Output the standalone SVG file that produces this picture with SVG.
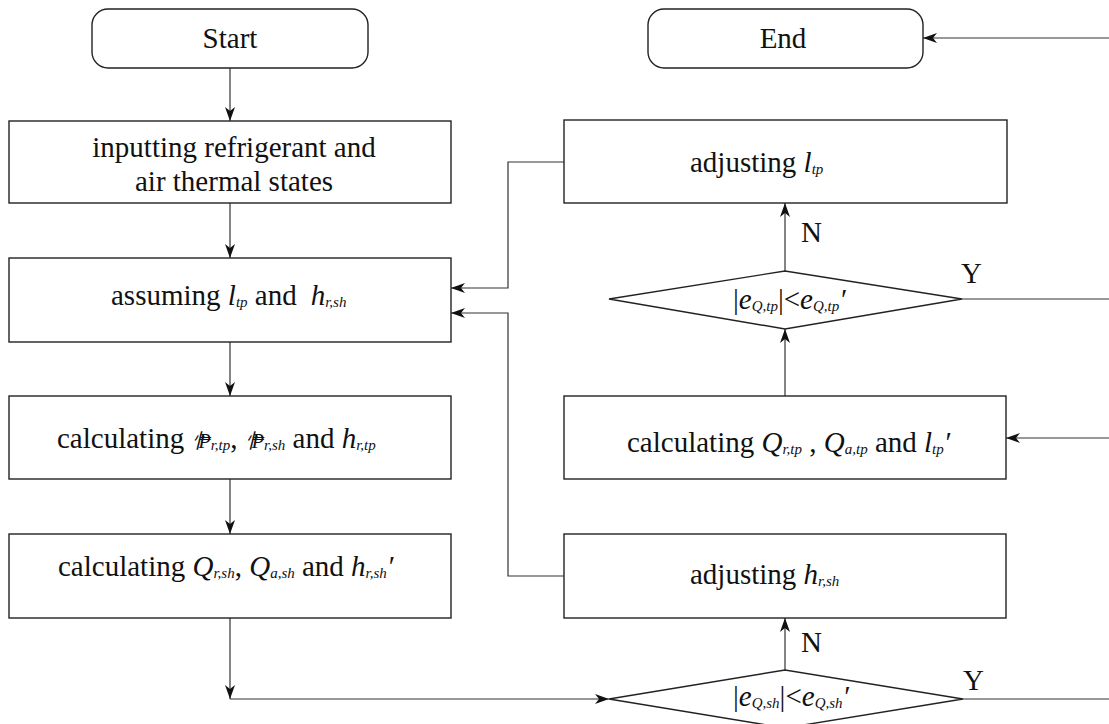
<svg xmlns="http://www.w3.org/2000/svg" width="1109" height="724" viewBox="0 0 1109 724">
<style>
.box{fill:#fff;stroke:#222;stroke-width:1.4}
.ln{fill:none;stroke:#333;stroke-width:1.2}
.t{font-family:"Liberation Serif","Times New Roman",serif;font-size:29px;fill:#111}
.i{font-style:italic}
.s{font-style:italic;font-size:15px}
.g{font-style:italic;font-size:20px;font-family:"Liberation Serif","Noto Sans CJK SC",serif}
</style>
<defs>
<marker id="ah" viewBox="0 0 14 10" refX="14" refY="5" markerWidth="14" markerHeight="10" orient="auto" markerUnits="userSpaceOnUse">
<path d="M0,0 L14,5 L0,10 L4,5 z" fill="#111"/>
</marker>
</defs>
<rect width="1109" height="724" fill="#fff"/>
<g id="connectors">
<path class="ln" d="M230,68 V121" marker-end="url(#ah)"/>
<path class="ln" d="M230,203 V258" marker-end="url(#ah)"/>
<path class="ln" d="M230,342 V396" marker-end="url(#ah)"/>
<path class="ln" d="M230,479 V534" marker-end="url(#ah)"/>
<path class="ln" d="M230,618 V699" marker-end="url(#ah)"/>
<path class="ln" d="M230,699 H609" marker-end="url(#ah)"/>
<path class="ln" d="M785,670 V618" marker-end="url(#ah)"/>
<path class="ln" d="M963,699 H1109"/>
<path class="ln" d="M564,576 H508 V313 H451" marker-end="url(#ah)"/>
<path class="ln" d="M1109,438 H1006" marker-end="url(#ah)"/>
<path class="ln" d="M785,396 V329" marker-end="url(#ah)"/>
<path class="ln" d="M785,271 V203" marker-end="url(#ah)"/>
<path class="ln" d="M962,299 H1109"/>
<path class="ln" d="M564,162 H508 V288 H451" marker-end="url(#ah)"/>
<path class="ln" d="M1109,38 H923" marker-end="url(#ah)"/>
</g>
<g id="start">
<rect class="box" x="92" y="9" width="276" height="59" rx="16"/>
<text class="t" x="230" y="48" text-anchor="middle">Start</text>
</g>
<g id="end">
<rect class="box" x="648" y="9" width="275" height="59" rx="16"/>
<text class="t" x="783" y="48" text-anchor="middle">End</text>
</g>
<g id="input">
<rect class="box" x="9" y="121" width="442" height="82"/>
<text class="t" x="234" y="157" text-anchor="middle">inputting refrigerant and</text>
<text class="t" x="234" y="191" text-anchor="middle">air thermal states</text>
</g>
<g id="assume">
<rect class="box" x="9" y="258" width="442" height="84"/>
<text class="t" x="111" y="305">assuming <tspan class="i">l</tspan><tspan class="s" dy="2">tp</tspan><tspan dy="-2"> and</tspan><tspan class="i" dx="14">h</tspan><tspan class="s" dy="2">r,sh</tspan></text>
</g>
<g id="calc1">
<rect class="box" x="9" y="396" width="442" height="83"/>
<text class="t" x="57" y="448">calculating <tspan class="g" letter-spacing="-13">忄₱</tspan><tspan class="s" dy="2" dx="13">r,tp</tspan><tspan dy="-2">, </tspan><tspan class="g" letter-spacing="-13">忄₱</tspan><tspan class="s" dy="2" dx="13">r,sh</tspan><tspan dy="-2"> and </tspan><tspan class="i">h</tspan><tspan class="s" dy="2">r,tp</tspan></text>
</g>
<g id="calc2">
<rect class="box" x="9" y="534" width="442" height="84"/>
<text class="t" x="58" y="576">calculating <tspan class="i">Q</tspan><tspan class="s" dy="2">r,sh</tspan><tspan dy="-2">, </tspan><tspan class="i">Q</tspan><tspan class="s" dy="2">a,sh</tspan><tspan dy="-2"> and </tspan><tspan class="i">h</tspan><tspan class="s" dy="2">r,sh</tspan><tspan class="i" dy="-2">′</tspan></text>
</g>
<g id="adjust-ltp">
<rect class="box" x="564" y="120" width="443" height="83"/>
<text class="t" x="690" y="172">adjusting <tspan class="i">l</tspan><tspan class="s" dy="2">tp</tspan></text>
</g>
<g id="decision-tp">
<polygon class="box" points="609,299 785,271 962,299 785,329"/>
<text class="t" x="733" y="309">|<tspan class="i">e</tspan><tspan class="s" dy="2">Q,tp</tspan><tspan dy="-2">|&lt;</tspan><tspan class="i">e</tspan><tspan class="s" dy="2">Q,tp</tspan><tspan class="i" dy="-2">′</tspan></text>
<text class="t" x="801" y="242">N</text>
<text class="t" x="961" y="283">Y</text>
</g>
<g id="calc-right">
<rect class="box" x="564" y="396" width="442" height="83"/>
<text class="t" x="627" y="452">calculating <tspan class="i">Q</tspan><tspan class="s" dy="2">r,tp</tspan><tspan dy="-2"> , </tspan><tspan class="i">Q</tspan><tspan class="s" dy="2">a,tp</tspan><tspan dy="-2"> and </tspan><tspan class="i">l</tspan><tspan class="s" dy="2">tp</tspan><tspan class="i" dy="-2">′</tspan></text>
</g>
<g id="adjust-hrsh">
<rect class="box" x="564" y="534" width="442" height="84"/>
<text class="t" x="690" y="584">adjusting <tspan class="i">h</tspan><tspan class="s" dy="2">r,sh</tspan></text>
</g>
<g id="decision-sh">
<polygon class="box" points="609,699 785,670 963,699 785,728"/>
<text class="t" x="733" y="706">|<tspan class="i">e</tspan><tspan class="s" dy="2">Q,sh</tspan><tspan dy="-2">|&lt;</tspan><tspan class="i">e</tspan><tspan class="s" dy="2">Q,sh</tspan><tspan class="i" dy="-2">′</tspan></text>
<text class="t" x="801" y="652">N</text>
<text class="t" x="963" y="690">Y</text>
</g>
</svg>
